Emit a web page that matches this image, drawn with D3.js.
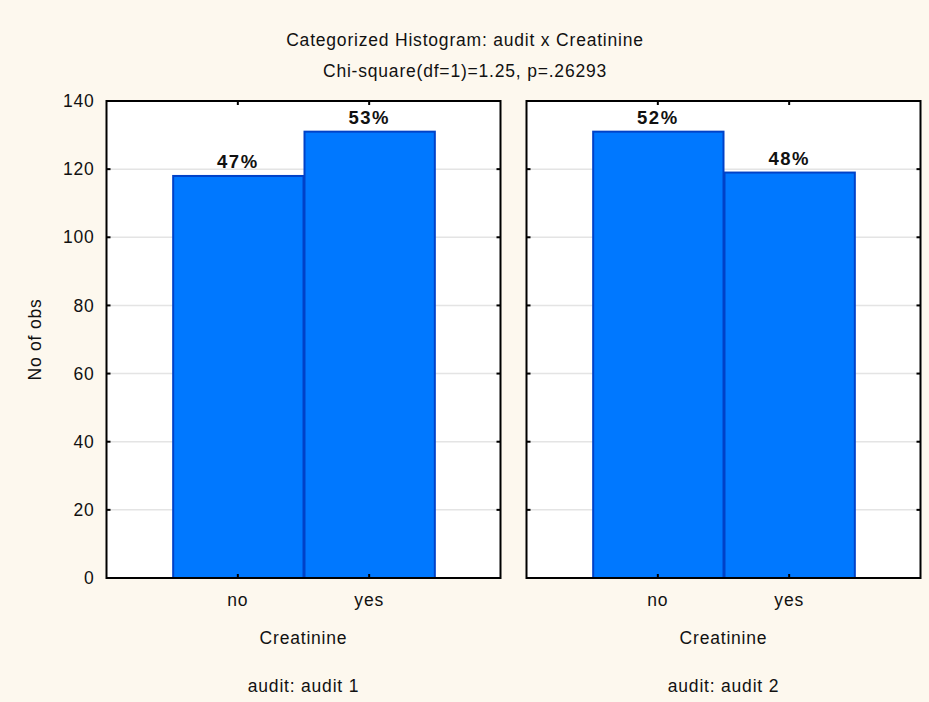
<!DOCTYPE html>
<html>
<head>
<meta charset="utf-8">
<script src="https://cdn.jsdelivr.net/npm/d3@7/dist/d3.min.js"></script>
<style>
  html, body { margin: 0; padding: 0; background: #FDF8EE; }
  svg { display: block; font-family: "Liberation Sans", Arial, sans-serif; }
</style>
</head>
<body>
<svg id="chart" width="929" height="702"></svg>
<script>
// Counts of Creatinine (no / yes) within each audit group
const categories = ["no", "yes"];
const panels = ["audit: audit 1", "audit: audit 2"];
const audit1Counts = [118, 131];
const audit2Counts = [131, 119];
const yTicks = [0, 20, 40, 60, 80, 100, 120, 140];
const titleText = "Categorized Histogram: audit x Creatinine";
const subtitleText = "Chi-square(df=1)=1.25, p=.26293";
const xAxisTitle = "Creatinine";
const yAxisTitle = "No of obs";

const seriesByPanel = [audit1Counts, audit2Counts];

const FS = 17.5, LS = 0.8;
const textColor = "#111";

const svg = d3.select("#chart");
const W = 929, H = 702;
svg.append("rect").attr("width", W).attr("height", H).attr("fill", "#FDF8EE");

const plotTop = 101, plotBottom = 578;
const panelLefts = [106.5, 526.5];
const panelW = 394;

const y = d3.scaleLinear().domain([0, 140]).range([plotBottom, plotTop]);

function label(sel) {
  return sel.attr("font-size", FS).attr("letter-spacing", LS).attr("fill", textColor);
}

label(svg.append("text"))
  .attr("x", 465).attr("y", 46)
  .attr("text-anchor", "middle")
  .text(titleText);
label(svg.append("text"))
  .attr("x", 465).attr("y", 77)
  .attr("text-anchor", "middle")
  .text(subtitleText);

// y-axis title
label(svg.append("text"))
  .attr("transform", `translate(41,${(plotTop + plotBottom) / 2}) rotate(-90)`)
  .attr("text-anchor", "middle")
  .text(yAxisTitle);

// y tick labels, left of first panel
svg.append("g")
  .attr("transform", `translate(${panelLefts[0]},0)`)
  .call(d3.axisLeft(y).tickValues(yTicks).tickSize(0).tickPadding(12))
  .call(g => g.select(".domain").remove())
  .call(g => g.selectAll("text")
    .attr("font-family", "Liberation Sans, Arial, sans-serif")
    .attr("font-size", FS).attr("letter-spacing", LS)
    .attr("fill", textColor));

panels.forEach((name, pi) => {
  const x0 = panelLefts[pi];
  const counts = seriesByPanel[pi];
  const total = d3.sum(counts);
  const x = d3.scaleBand().domain(categories)
    .range([x0, x0 + panelW]).paddingInner(0).paddingOuter(0.5);

  const g = svg.append("g");
  g.append("rect")
    .attr("x", x0).attr("y", plotTop)
    .attr("width", panelW).attr("height", plotBottom - plotTop)
    .attr("fill", "#fff");

  // horizontal grid
  g.selectAll("line.grid").data(yTicks.filter(t => t > 0 && t < 140)).join("line")
    .attr("x1", x0).attr("x2", x0 + panelW)
    .attr("y1", d => y(d)).attr("y2", d => y(d))
    .attr("stroke", "#E4E4E4").attr("stroke-width", 1.5);

  // bars
  g.selectAll("rect.bar").data(categories).join("rect")
    .attr("x", d => x(d) + 1)
    .attr("y", (d, i) => y(counts[i]))
    .attr("width", x.bandwidth() - 1)
    .attr("height", (d, i) => plotBottom - y(counts[i]))
    .attr("fill", "#0078FF")
    .attr("stroke", "#0042C8").attr("stroke-width", 2);

  // percentage labels
  g.selectAll("text.pct").data(categories).join("text")
    .attr("x", d => x(d) + x.bandwidth() / 2)
    .attr("y", (d, i) => y(counts[i]) - 8)
    .attr("text-anchor", "middle")
    .attr("font-size", 18.5).attr("font-weight", "bold").attr("letter-spacing", 1.5)
    .attr("fill", textColor)
    .text((d, i) => Math.round(counts[i] / total * 100) + "%");

  // frame
  g.append("rect")
    .attr("x", x0).attr("y", plotTop)
    .attr("width", panelW).attr("height", plotBottom - plotTop)
    .attr("fill", "none").attr("stroke", "#000").attr("stroke-width", 2);

  // inward ticks on all sides
  const tl = 4;
  g.selectAll("line.yl").data(yTicks).join("line")
    .attr("x1", x0).attr("x2", x0 + tl)
    .attr("y1", d => y(d)).attr("y2", d => y(d))
    .attr("stroke", "#000").attr("stroke-width", 2);
  g.selectAll("line.yr").data(yTicks).join("line")
    .attr("x1", x0 + panelW - tl).attr("x2", x0 + panelW)
    .attr("y1", d => y(d)).attr("y2", d => y(d))
    .attr("stroke", "#000").attr("stroke-width", 2);
  g.selectAll("line.xb").data(categories).join("line")
    .attr("x1", d => x(d) + x.bandwidth() / 2).attr("x2", d => x(d) + x.bandwidth() / 2)
    .attr("y1", plotBottom).attr("y2", plotBottom - tl)
    .attr("stroke", "#000").attr("stroke-width", 2);
  g.selectAll("line.xt").data(categories).join("line")
    .attr("x1", d => x(d) + x.bandwidth() / 2).attr("x2", d => x(d) + x.bandwidth() / 2)
    .attr("y1", plotTop).attr("y2", plotTop + tl)
    .attr("stroke", "#000").attr("stroke-width", 2);

  // category labels
  label(g.selectAll("text.cat").data(categories).join("text"))
    .attr("x", d => x(d) + x.bandwidth() / 2)
    .attr("y", 606)
    .attr("text-anchor", "middle")
    .text(d => d);

  label(g.append("text"))
    .attr("x", x0 + panelW / 2).attr("y", 644)
    .attr("text-anchor", "middle")
    .text(xAxisTitle);

  label(g.append("text"))
    .attr("x", x0 + panelW / 2).attr("y", 692)
    .attr("text-anchor", "middle")
    .text(name);
});
</script>
</body>
</html>
